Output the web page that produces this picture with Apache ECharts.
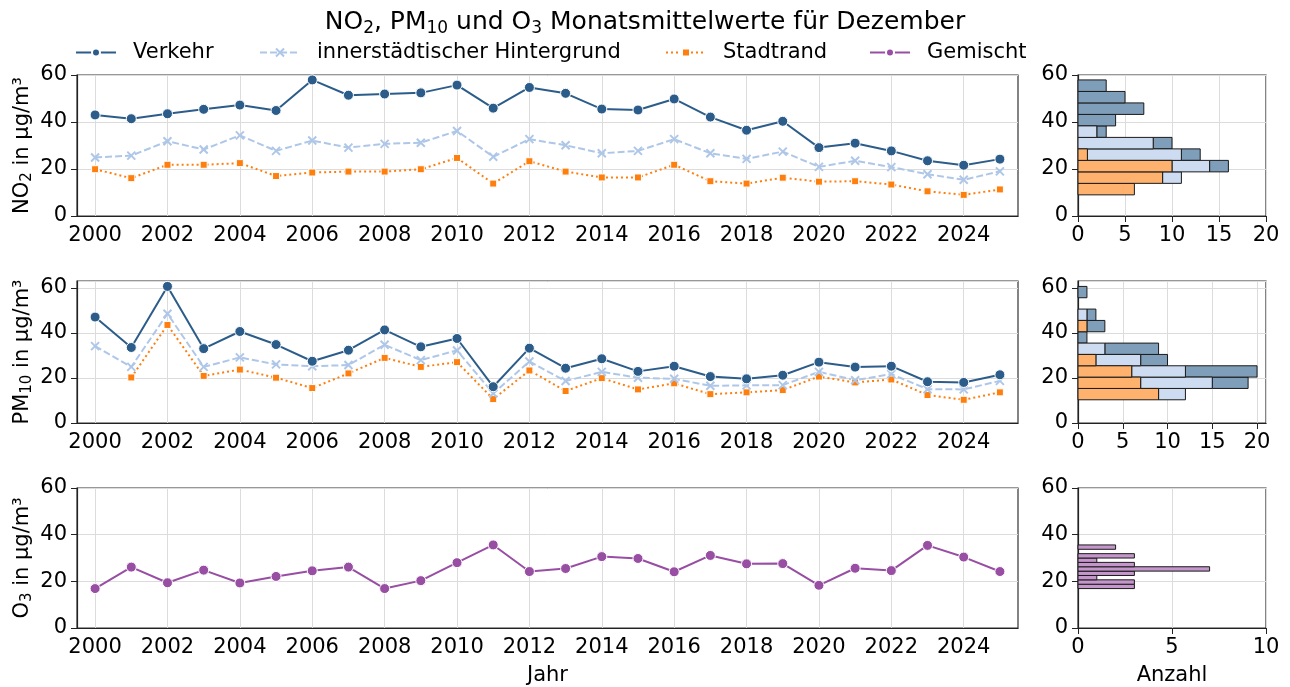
<!DOCTYPE html>
<html lang="de">
<head>
<meta charset="utf-8" />
<title>NO2, PM10 und O3 Monatsmittelwerte</title>
<script src="https://cdn.jsdelivr.net/npm/echarts@6/dist/echarts.min.js"></script>
<style>
  body{margin:0;background:#fff;}
  #main{width:1290px;height:687px;}
</style>
</head>
<body>
<div id="main"></div>
<script>
var years = [];
for (var y = 2000; y <= 2025; y++) years.push(String(y));

var no2Verkehr    = [43.0, 41.4, 43.5, 45.4, 47.2, 44.9, 57.9, 51.4, 51.9, 52.4, 55.7, 45.9, 54.7, 52.2, 45.5, 45.1, 49.8, 42.1, 36.5, 40.3, 29.1, 31.0, 27.7, 23.5, 21.6, 24.2];
var no2Hinter     = [24.9, 25.7, 31.8, 28.3, 34.3, 27.7, 32.1, 29.1, 30.7, 31.2, 36.2, 25.2, 32.7, 30.1, 26.7, 27.7, 32.7, 26.7, 24.3, 27.4, 20.9, 23.5, 20.8, 17.8, 15.4, 19.0];
var no2Stadtrand  = [19.9, 16.1, 21.8, 21.8, 22.5, 17.0, 18.5, 18.9, 18.9, 19.9, 24.7, 13.8, 23.3, 18.9, 16.4, 16.4, 21.8, 14.8, 13.8, 16.3, 14.6, 14.8, 13.4, 10.5, 9.0, 11.3];

var pm10Verkehr   = [47.0, 33.5, 60.6, 33.0, 40.6, 34.8, 27.4, 32.3, 41.3, 33.8, 37.5, 16.1, 33.2, 24.3, 28.5, 22.9, 25.2, 20.6, 19.6, 21.2, 27.0, 24.8, 25.2, 18.3, 18.0, 21.4];
var pm10Hinter    = [34.1, 24.9, 48.5, 24.9, 29.1, 26.0, 25.2, 25.7, 34.7, 27.9, 32.2, 13.1, 27.3, 18.6, 22.7, 20.1, 19.6, 16.5, 16.7, 16.8, 22.7, 19.0, 21.7, 15.0, 14.9, 18.7];
var pm10Stadtrand = [null, 20.2, 43.5, 20.9, 23.7, 20.1, 15.5, 22.0, 28.9, 24.9, 27.0, 10.6, 23.3, 14.2, 19.9, 14.9, 17.6, 12.8, 13.6, 14.6, 20.6, 18.0, 19.3, 12.4, 10.3, 13.6];

var o3Gemischt    = [16.9, 26.1, 19.4, 24.8, 19.3, 22.1, 24.5, 26.1, 16.9, 20.3, 28.0, 35.6, 24.2, 25.5, 30.6, 29.8, 24.1, 31.1, 27.5, 27.6, 18.3, 25.6, 24.6, 35.4, 30.4, 24.2];

var FONT = 'DejaVu Sans';
var FS = 21;
var C_VERKEHR = '#2c5d8a', C_HINTER = '#aec7e8', C_STADT = '#ff7f0e', C_GEM = '#984ea3';
var H_VERKEHR = '#7f9eb9', H_HINTER = '#cedcf1', H_STADT = '#ffb26e', H_GEM = '#c596cc';
var X_SYMBOL = 'path://M0,0L10,10M10,0L0,10';

// histogram bins like numpy: 10 equal bins from min to max, stacked (last group at base)
function histLayers(groups, nBins) {
    var all = [];
    groups.forEach(function (g) { g.forEach(function (v) { if (v != null) all.push(v); }); });
    var lo = Math.min.apply(null, all), hi = Math.max.apply(null, all);
    var w = (hi - lo) / nBins;
    var counts = groups.map(function (g) {
        var c = [];
        for (var i = 0; i < nBins; i++) c.push(0);
        g.forEach(function (v) {
            if (v == null) return;
            var b = Math.floor((v - lo) / w);
            if (b >= nBins) b = nBins - 1;
            c[b]++;
        });
        return c;
    });
    var layers = groups.map(function () { return []; });
    for (var b = 0; b < nBins; b++) {
        var x = 0;
        for (var k = groups.length - 1; k >= 0; k--) {
            var n = counts[k][b];
            if (n > 0) layers[k].push([lo + b * w, lo + (b + 1) * w, x, x + n]);
            x += n;
        }
    }
    return layers;
}

function renderBin(params, api) {
    var a = api.coord([api.value(2), api.value(1)]);
    var b = api.coord([api.value(3), api.value(0)]);
    return {
        type: 'rect',
        shape: { x: a[0], y: a[1], width: b[0] - a[0], height: b[1] - a[1] },
        style: { fill: api.visual('color'), stroke: '#1a1a1a', lineWidth: 1 }
    };
}

var no2Hist = histLayers([no2Verkehr, no2Hinter, no2Stadtrand], 10);
var pm10Hist = histLayers([pm10Verkehr, pm10Hinter, pm10Stadtrand], 10);
var o3Hist = histLayers([o3Gemischt], 10);

var labelStyle = { color: '#000', fontSize: FS, fontFamily: FONT };
var splitStyle = { show: true, lineStyle: { color: '#dcdcdc', width: 1 } };
var lineAxis = { show: true, lineStyle: { color: '#222', width: 1.2 } };

var subRich = { s: { fontSize: 15, lineHeight: 12, verticalAlign: 'bottom', fontFamily: FONT, color: '#000' } };

function yearAxis(grid, name) {
    return {
        type: 'category', gridIndex: grid, data: years, boundaryGap: true,
        axisLine: lineAxis,
        axisTick: { alignWithLabel: true, length: 6, interval: function (i) { return i % 2 === 0; }, lineStyle: { color: '#222' } },
        axisLabel: Object.assign({ interval: function (i) { return i % 2 === 0; }, margin: 9 }, labelStyle),
        splitLine: { show: true, alignWithLabel: true, interval: function (i) { return i % 2 === 0; }, lineStyle: { color: '#dcdcdc', width: 1 } },
        name: name || '', nameLocation: 'middle', nameGap: 37, nameMoveOverlap: false,
        nameTextStyle: { color: '#000', fontSize: FS, fontFamily: FONT }
    };
}
function minorAxis(grid) {
    return {
        type: 'category', gridIndex: grid, data: years, boundaryGap: true,
        axisLine: { show: false },
        axisTick: { alignWithLabel: true, length: 3.5, interval: 0, lineStyle: { color: '#222' } },
        axisLabel: { show: false }, splitLine: { show: false }
    };
}
function countAxis(grid, max, interval, name) {
    return {
        type: 'value', gridIndex: grid, min: 0, max: max, interval: interval,
        axisLine: lineAxis,
        axisTick: { show: true, length: 6, lineStyle: { color: '#222' } },
        axisLabel: Object.assign({ margin: 9, showMaxLabel: max % interval === 0 }, labelStyle),
        splitLine: splitStyle,
        name: name || '', nameLocation: 'middle', nameGap: 37, nameMoveOverlap: false,
        nameTextStyle: { color: '#000', fontSize: FS, fontFamily: FONT }
    };
}
function concAxis(grid, max, name) {
    return {
        type: 'value', gridIndex: grid, min: 0, max: max, interval: 20,
        axisLine: lineAxis,
        axisTick: { show: true, length: 6, lineStyle: { color: '#222' } },
        axisLabel: Object.assign({ margin: 10, showMaxLabel: max % 20 === 0 }, labelStyle),
        splitLine: splitStyle,
        name: name || '', nameLocation: 'middle', nameGap: 42, nameRotate: 90, nameMoveOverlap: false,
        nameTextStyle: { color: '#000', fontSize: FS, fontFamily: FONT, lineHeight: 24, rich: subRich }
    };
}

function lineSeries(name, data, xi, yi, color, symbol, size, lineType) {
    return {
        name: name, type: 'line', data: data, xAxisIndex: xi, yAxisIndex: yi,
        symbol: symbol, symbolSize: size, showSymbol: true, connectNulls: false,
        lineStyle: { color: color, width: 2, type: lineType || 'solid' },
        itemStyle: symbol === X_SYMBOL
            ? { color: color, borderColor: color, borderWidth: 2 }
            : { color: color, borderColor: '#fff', borderWidth: 1 },
        emphasis: { disabled: true }
    };
}
function histSeries(name, data, xi, yi, color) {
    return {
        name: name, type: 'custom', data: data, xAxisIndex: xi, yAxisIndex: yi,
        renderItem: renderBin, encode: { x: [2, 3], y: [0, 1] },
        itemStyle: { color: color }
    };
}

function legendAt(name, left) {
    return {
        data: [name], left: left, top: 37, itemWidth: 40, itemHeight: 10, itemGap: 0,
        textStyle: { color: '#000', fontSize: FS, fontFamily: FONT, padding: [0, 0, 0, 12] }
    };
}

var gridBase = { show: true, borderColor: '#333', borderWidth: 1.2, backgroundColor: 'transparent' };
var myChart = echarts.init(document.getElementById('main'));
var option = {
    animation: false,
    backgroundColor: '#fff',
    title: {
        text: 'NO{s|2}, PM{s|10} und O{s|3} Monatsmittelwerte für Dezember',
        left: 'center', top: 3,
        textStyle: {
            color: '#000', fontSize: 25, fontWeight: 'normal', fontFamily: FONT, lineHeight: 29,
            rich: { s: { fontSize: 17, lineHeight: 13, verticalAlign: 'bottom', fontFamily: FONT, color: '#000' } }
        }
    },
    legend: [
        legendAt('Verkehr', 70),
        legendAt('innerstädtischer Hintergrund', 254),
        legendAt('Stadtrand', 660),
        legendAt('Gemischt', 864)
    ],
    grid: [
        Object.assign({ left: 77, top: 75, width: 941, height: 141 }, gridBase),
        Object.assign({ left: 77, top: 281, width: 941, height: 142 }, gridBase),
        Object.assign({ left: 77, top: 488, width: 941, height: 142 }, gridBase),
        Object.assign({ left: 1078, top: 75, width: 188, height: 141 }, gridBase),
        Object.assign({ left: 1078, top: 281, width: 188, height: 142 }, gridBase),
        Object.assign({ left: 1078, top: 488, width: 188, height: 142 }, gridBase)
    ],
    xAxis: [
        yearAxis(0), minorAxis(0),
        yearAxis(1), minorAxis(1),
        yearAxis(2, 'Jahr'), minorAxis(2),
        countAxis(3, 20, 5),
        countAxis(4, 21, 5),
        countAxis(5, 10, 5, 'Anzahl')
    ],
    yAxis: [
        concAxis(0, 60, 'NO{s|2} in µg/m³'),
        concAxis(1, 63, 'PM{s|10} in µg/m³'),
        concAxis(2, 60, 'O{s|3} in µg/m³'),
        concAxis(3, 60),
        concAxis(4, 63),
        concAxis(5, 60)
    ],
    series: [
        lineSeries('Stadtrand', no2Stadtrand, 0, 0, C_STADT, 'rect', 7, [2, 3]),
        lineSeries('innerstädtischer Hintergrund', no2Hinter, 0, 0, C_HINTER, X_SYMBOL, 8, [7, 3]),
        lineSeries('Verkehr', no2Verkehr, 0, 0, C_VERKEHR, 'circle', 10),
        lineSeries('Stadtrand', pm10Stadtrand, 2, 1, C_STADT, 'rect', 7, [2, 3]),
        lineSeries('innerstädtischer Hintergrund', pm10Hinter, 2, 1, C_HINTER, X_SYMBOL, 8, [7, 3]),
        lineSeries('Verkehr', pm10Verkehr, 2, 1, C_VERKEHR, 'circle', 10),
        lineSeries('Gemischt', o3Gemischt, 4, 2, C_GEM, 'circle', 10),
        histSeries('NO2 Verkehr', no2Hist[0], 6, 3, H_VERKEHR),
        histSeries('NO2 Hintergrund', no2Hist[1], 6, 3, H_HINTER),
        histSeries('NO2 Stadtrand', no2Hist[2], 6, 3, H_STADT),
        histSeries('PM10 Verkehr', pm10Hist[0], 7, 4, H_VERKEHR),
        histSeries('PM10 Hintergrund', pm10Hist[1], 7, 4, H_HINTER),
        histSeries('PM10 Stadtrand', pm10Hist[2], 7, 4, H_STADT),
        histSeries('O3 Gemischt', o3Hist[0], 8, 5, H_GEM)
    ]
};
myChart.setOption(option);
</script>
</body>
</html>
